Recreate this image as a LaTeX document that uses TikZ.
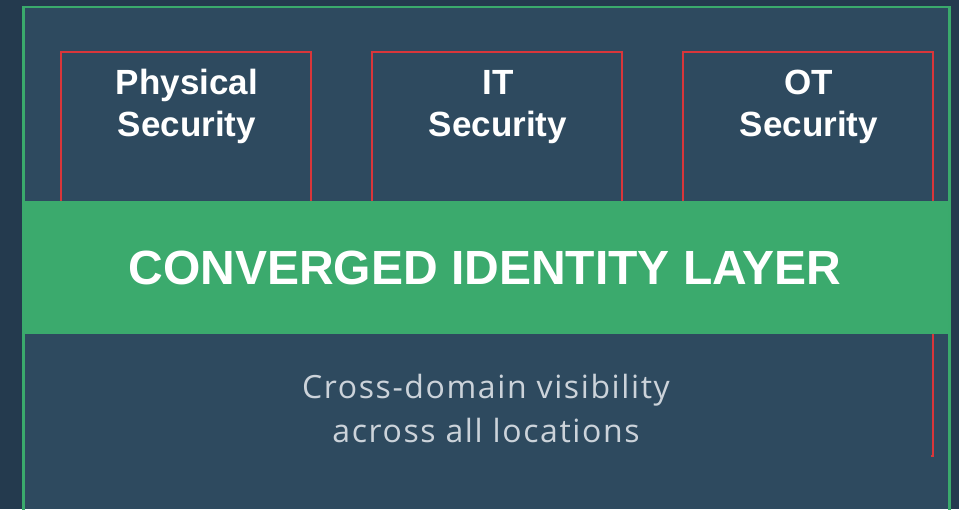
\documentclass[tikz,border=0pt]{standalone}
\usepackage{fontspec}
\setmainfont{Liberation Sans}
\newfontfamily\lightfont[Ligatures=NoCommon,LetterSpace=5]{Open Sans}
\definecolor{bgdark}{HTML}{243A4E}
\definecolor{panel}{HTML}{2E4A5F}
\definecolor{greenline}{HTML}{3AAA6C}
\definecolor{bandgreen}{HTML}{3BAA6D}
\definecolor{redline}{HTML}{D9363A}
\definecolor{softgray}{HTML}{CCD3DA}
\tikzset{
  domainbox/.style={draw=redline, line width=2.7pt},
  titletext/.style={font=\fontsize{35}{40}\selectfont\bfseries, text=white, inner sep=0pt, anchor=base},
  bandtext/.style={font=\fontsize{48}{56}\selectfont\bfseries, text=white, inner sep=0pt, anchor=base},
  notetext/.style={font=\lightfont\fontsize{32}{44}\selectfont, text=softgray, inner sep=0pt, anchor=base},
}
\begin{document}
\begin{tikzpicture}[x=1pt,y=-1pt]
\useasboundingbox (0,0) rectangle (959,509);
\fill[bgdark] (0,0) rectangle (959,509);
\fill[panel] (23.5,7) rectangle (949.5,509);
\draw[greenline, line width=2.8pt] (23.5,515) -- (23.5,7) -- (949.5,7) -- (949.5,515);
% domain boxes (open at bottom, hidden behind band)
\draw[domainbox] (61,205) -- (61,52) -- (311,52) -- (311,205);
\draw[domainbox] (372,205) -- (372,52) -- (622,52) -- (622,205);
\draw[domainbox] (683,205) -- (683,52) -- (933,52) -- (933,205);
% band
\node[fill=bandgreen, inner sep=0pt, minimum width=925pt, minimum height=133pt, anchor=north west] (band) at (23,201) {};
\node[bandtext] (bandlabel) at (485,284) {CONVERGED IDENTITY LAYER};
% red tail below band
\coordinate (tailtop) at (933,334);
\coordinate (tailbot) at (933,456);
\coordinate (tailfoot) at (930.5,456);
\draw[redline, line width=2.7pt] (tailtop) -- (tailbot) -- (tailfoot);
% titles
\node[titletext] (phys1) at (187,94) {Physical};
\node[titletext] (phys2) at (187,136) {Security};
\node[titletext] (it1) at (498,94) {IT};
\node[titletext] (it2) at (498,136) {Security};
\node[titletext] (ot1) at (809,94) {OT};
\node[titletext] (ot2) at (809,136) {Security};
% note
\node[notetext] (note1) at (486,398) {Cross-domain visibility};
\node[notetext] (note2) at (486,442) {across all locations};
\end{tikzpicture}
\end{document}
